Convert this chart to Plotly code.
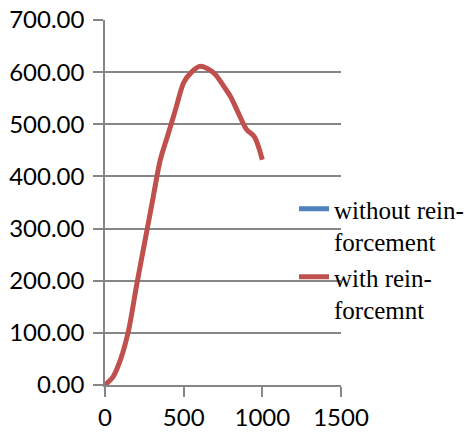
import plotly.graph_objects as go

# Data
displacement = [0, 50, 100, 150, 200, 250, 300, 350, 400, 450, 500, 550,
                600, 650, 700, 750, 800, 850, 900, 950, 1000]
load_with = [0, 15, 50, 105, 190, 270, 350, 430, 480, 530, 580, 600,
             611, 607, 596, 575, 552, 520, 490, 476, 432]
load_without = [None]  # series appears in legend only

series_names = ["without rein-<br>forcement", "with rein-<br>forcemnt"]
x_ticks = [0, 500, 1000, 1500]
y_ticks = [0, 100, 200, 300, 400, 500, 600, 700]

fig = go.Figure()
fig.add_trace(go.Scatter(x=[None], y=load_without, mode="lines",
                         name=series_names[0],
                         line=dict(color="#4F81BD", width=5)))
fig.add_trace(go.Scatter(x=displacement, y=load_with, mode="lines",
                         name=series_names[1],
                         line=dict(color="#C0504D", width=5, shape="spline", smoothing=0.8)))

W, H = 476, 432
axis_font = dict(family="Lato", size=24, color="#000000")
fig.update_layout(
    width=W, height=H,
    margin=dict(l=105, r=135, t=20, b=47, autoexpand=False),
    paper_bgcolor="white", plot_bgcolor="white",
    showlegend=True,
    legend=dict(
        xref="container", yref="container",
        x=294/W, y=1-186/H, xanchor="left", yanchor="top",
        font=dict(family="Liberation Serif", size=25, color="#000000"),
        valign="top", bgcolor="rgba(0,0,0,0)",
    ),
    xaxis=dict(range=[0, 1500], tickvals=x_ticks, showgrid=False,
               showline=True, linecolor="#868686", linewidth=1.5,
               ticks="outside", ticklen=10, tickcolor="#868686", tickwidth=1.5,
               tickfont=axis_font, zeroline=False, automargin=False, tickangle=0,
               ticklabeloverflow="allow"),
    yaxis=dict(range=[0, 700], tickvals=y_ticks, tickformat=".2f",
               showgrid=True, gridcolor="#868686", gridwidth=1.5,
               showline=True, linecolor="#868686", linewidth=1.5,
               ticks="outside", ticklen=10, tickcolor="#868686", tickwidth=1.5,
               tickfont=axis_font, zeroline=False, automargin=False, ticklabelstandoff=4,
               ticklabeloverflow="allow"),
)

fig.write_html("out.html",
               config={"displayModeBar": False},
               post_script="document.body.style.margin='0';document.body.style.overflow='hidden';")
